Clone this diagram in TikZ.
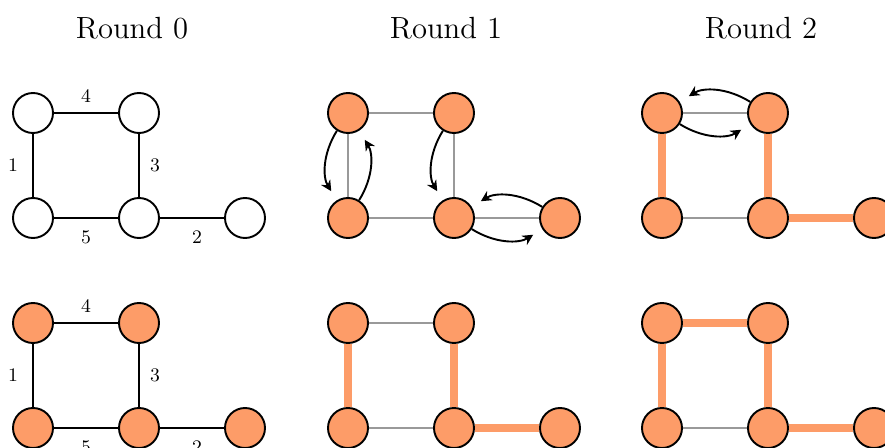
\documentclass[tikz,border=0pt]{standalone}
\usepackage{tikz}
\usetikzlibrary{positioning, arrows.meta}
\definecolor{peach}{RGB}{253,156,104}

\begin{document}
\begin{tikzpicture}[x=0.47pt, y=-0.47pt,
		vtx/.style={circle, draw, line width=0.9pt, minimum size=18.8pt, inner sep=0pt},
		hot/.style={vtx, fill=peach},
		link/.style={line width=0.9pt},
		idle/.style={line width=0.9pt, draw=black!40},
		picked/.style={line width=3.3pt, draw=peach},
		hop/.style={-{Stealth[length=5pt, width=5pt]}, line width=0.9pt, bend right=32, shorten >=5pt},
		wt/.style={font=\small}]
		\clip (0,0) rectangle (885,448);
		
		\node[font=\Large] (T0) at (132,28) {Round 0};
		\node[font=\Large] (T1) at (446,28) {Round 1};
		\node[font=\Large] (T2) at (761,28) {Round 2};
		
		% round 0, top
		\node[vtx] (A1) at (33,113) {};
		\node[vtx] (A2) at (139,113) {};
		\node[vtx] (A3) at (33,218) {};
		\node[vtx] (A4) at (139,218) {};
		\node[vtx] (A5) at (245,218) {};
		
		\path[link]
		(A1) edge node[wt, above=1.2pt] {4} (A2)
		(A1) edge node[wt, left=3.3pt] {1} (A3)
		(A2) edge node[wt, right=1.5pt] {3} (A4)
		(A3) edge node[wt, below=2pt] {5} (A4)
		(A4) edge node[wt, below=2pt, pos=0.58] {2} (A5);
		
		% round 1, top
		\node[hot] (B1) at (348,113) {};
		\node[hot] (B2) at (454,113) {};
		\node[hot] (B3) at (348,218) {};
		\node[hot] (B4) at (454,218) {};
		\node[hot] (B5) at (560,218) {};
		
		\path[idle]
		(B1) edge (B2)
		(B1) edge (B3)
		(B2) edge (B4)
		(B3) edge (B4)
		(B4) edge (B5);
		
		\draw[hop] (B1) to (B3);
		\draw[hop] (B3) to (B1);
		\draw[hop] (B2) to (B4);
		\draw[hop] (B5) to (B4);
		\draw[hop] (B4) to (B5);
		
		% round 2, top
		\node[hot] (C1) at (662,113) {};
		\node[hot] (C2) at (768,113) {};
		\node[hot] (C3) at (662,218) {};
		\node[hot] (C4) at (768,218) {};
		\node[hot] (C5) at (874,218) {};
		
		\path[idle]
		(C1) edge (C2)
		(C3) edge (C4);
		\path[picked]
		(C1) edge (C3)
		(C2) edge (C4)
		(C4) edge (C5);
		
		\draw[hop] (C2) to (C1);
		\draw[hop] (C1) to (C2);
		
		% round 0, bottom
		\node[hot] (D1) at (33,323) {};
		\node[hot] (D2) at (139,323) {};
		\node[hot] (D3) at (33,428) {};
		\node[hot] (D4) at (139,428) {};
		\node[hot] (D5) at (245,428) {};
		
		\path[link]
		(D1) edge node[wt, above=1.2pt] {4} (D2)
		(D1) edge node[wt, left=3.3pt] {1} (D3)
		(D2) edge node[wt, right=1.5pt] {3} (D4)
		(D3) edge node[wt, below=2pt] {5} (D4)
		(D4) edge node[wt, below=2pt, pos=0.58] {2} (D5);
		
		% round 1, bottom
		\node[hot] (E1) at (348,323) {};
		\node[hot] (E2) at (454,323) {};
		\node[hot] (E3) at (348,428) {};
		\node[hot] (E4) at (454,428) {};
		\node[hot] (E5) at (560,428) {};
		
		\path[idle]
		(E1) edge (E2)
		(E3) edge (E4);
		\path[picked]
		(E1) edge (E3)
		(E2) edge (E4)
		(E4) edge (E5);
		
		% round 2, bottom
		\node[hot] (F1) at (662,323) {};
		\node[hot] (F2) at (768,323) {};
		\node[hot] (F3) at (662,428) {};
		\node[hot] (F4) at (768,428) {};
		\node[hot] (F5) at (874,428) {};
		
		\path[idle]
		(F3) edge (F4);
		\path[picked]
		(F1) edge (F2)
		(F1) edge (F3)
		(F2) edge (F4)
		(F4) edge (F5);
	\end{tikzpicture}
\end{document}
